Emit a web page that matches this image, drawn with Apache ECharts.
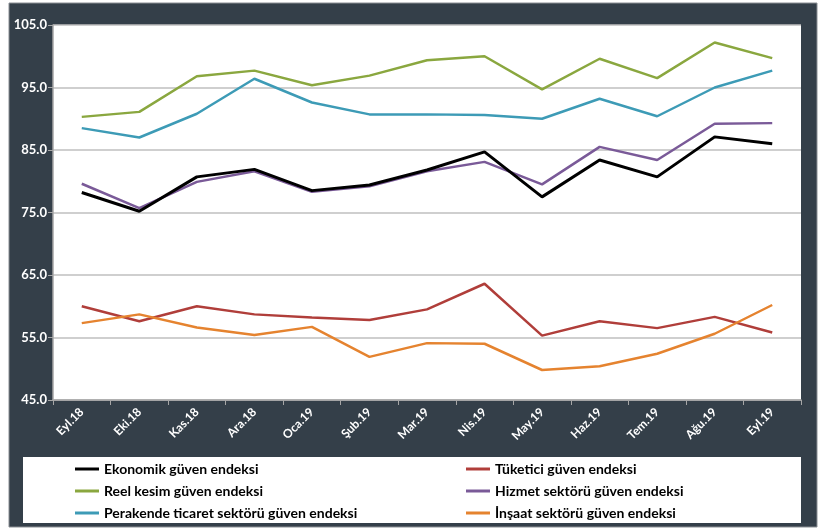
<!DOCTYPE html>
<html><head><meta charset="utf-8">
<script src="https://cdn.jsdelivr.net/npm/echarts@6/dist/echarts.min.js"></script>
<style>html,body{margin:0;padding:0;background:#fff}#c{width:834px;height:530px}</style>
</head><body><div id="c"></div>
<script>
const categories = ["Eyl.18","Eki.18","Kas.18","Ara.18","Oca.19","Şub.19","Mar.19","Nis.19","May.19","Haz.19","Tem.19","Ağu.19","Eyl.19"];
const ekonomik = [78.2,75.2,80.7,81.9,78.5,79.4,81.8,84.7,77.5,83.4,80.7,87.1,86.0];
const tuketici = [60.0,57.6,60.0,58.7,58.2,57.8,59.5,63.6,55.3,57.6,56.5,58.3,55.8];
const reel = [90.3,91.1,96.8,97.7,95.35,96.9,99.35,100.0,94.7,99.6,96.5,102.2,99.7];
const hizmet = [79.6,75.7,79.9,81.6,78.3,79.2,81.6,83.1,79.5,85.5,83.4,89.2,89.3];
const perakende = [88.5,87.0,90.8,96.4,92.6,90.7,90.7,90.6,90.0,93.2,90.4,95.0,97.7];
const insaat = [57.3,58.7,56.6,55.4,56.7,51.9,54.1,54.0,49.8,50.4,52.4,55.6,60.2];
const yTicks = [45,55,65,75,85,95,105];

const names = ["Ekonomik güven endeksi","Tüketici güven endeksi","Reel kesim güven endeksi","Hizmet sektörü güven endeksi","Perakende ticaret sektörü güven endeksi","İnşaat sektörü güven endeksi"];
const dataSets = [ekonomik,tuketici,reel,hizmet,perakende,insaat];
const colors = ["#000000","#b03e3a","#8aa73f","#7a5a98","#3d9bb6","#e5832f"];
const widths = [3,2.5,2.5,2.5,2.5,2.5];

const chart = echarts.init(document.getElementById('c'));
const font = "Lato, 'Open Sans', sans-serif";
const legendText = {color:'#000', fontSize:14, fontWeight:'bold', fontFamily:font};
chart.setOption({
  animation:false,
  backgroundColor:'#fff',
  graphic:[
    {type:'rect', shape:{x:9,y:3,width:808,height:524}, style:{fill:'#343f49', stroke:'#8a8f94', lineWidth:1}, z:-10},
    {type:'rect', shape:{x:23,y:457,width:778,height:66}, style:{fill:'#ffffff'}, z:-5}
  ],
  grid:{left:53, top:25, width:748, height:375, backgroundColor:'#fff', show:true, borderWidth:0},
  legend:[
    {data:[names[0],names[2],names[4]], orient:'vertical', left:75, top:462, itemGap:8, itemWidth:24, itemHeight:3,
     icon:'rect', textStyle:legendText, padding:0},
    {data:[names[1],names[3],names[5]], orient:'vertical', left:466, top:462, itemGap:8, itemWidth:24, itemHeight:3,
     icon:'rect', textStyle:legendText, padding:0}
  ],
  xAxis:{type:'category', data:categories, boundaryGap:true,
    axisLine:{lineStyle:{color:'#a6a6a6', width:1.5}},
    axisTick:{show:true, length:5, lineStyle:{color:'#a6a6a6'}},
    axisLabel:{color:'#fff', rotate:45, fontSize:12, fontWeight:'bold', fontFamily:font, margin:10}},
  yAxis:{type:'value', min:45, max:105, interval:10,
    axisLine:{show:true, lineStyle:{color:'#a6a6a6', width:1.5}},
    axisTick:{show:true, length:5, lineStyle:{color:'#a6a6a6'}},
    splitLine:{lineStyle:{color:'#bfbfbf', width:1.5}},
    axisLabel:{color:'#fff', fontSize:13, fontWeight:'bold', fontFamily:font, margin:6,
      formatter:v=>v.toFixed(1)}},
  series: names.map((n,i)=>({name:n, type:'line', data:dataSets[i], symbol:'none',
    lineStyle:{color:colors[i], width:widths[i]}, itemStyle:{color:colors[i]}, z: i===0?5:2}))
});
</script></body></html>
